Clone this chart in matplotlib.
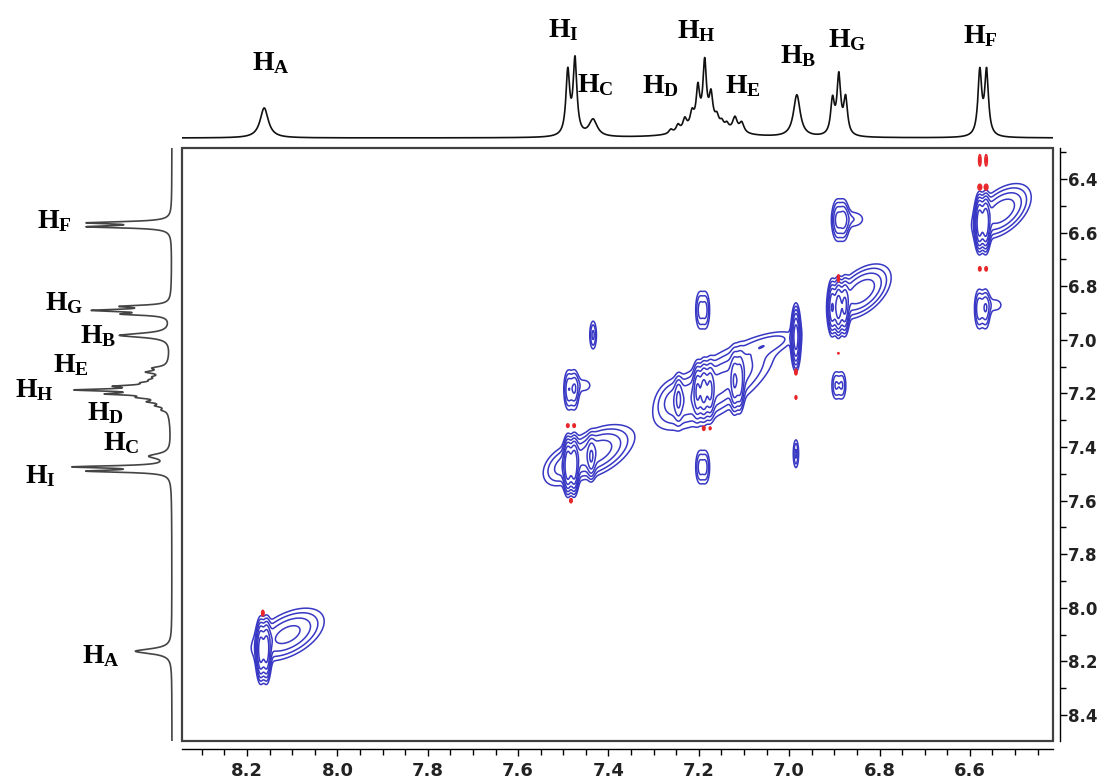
import numpy as np
import matplotlib
matplotlib.use('Agg')
import matplotlib.pyplot as plt
from matplotlib.patches import Rectangle
from matplotlib.ticker import MultipleLocator, FormatStrFormatter

plt.rcParams['mathtext.fontset'] = 'custom'
plt.rcParams['mathtext.bf'] = 'Liberation Serif:bold'
plt.rcParams['mathtext.rm'] = 'Liberation Serif'

# 1D proton spectrum: line position (ppm), height, line width (ppm)
shift = [8.162, 7.490, 7.474, 7.434, 7.262, 7.246, 7.231, 7.215, 7.202, 7.187, 7.173,
         7.160, 7.149, 7.138, 7.120, 7.105, 7.180, 6.983, 6.904, 6.890, 6.875, 6.578, 6.563]
height = [30, 63, 75, 17, 4, 7, 11, 14, 36, 60, 27,
          8, 5, 5, 14, 10, 14, 42, 34, 58, 36, 64, 64]
fwhm = [0.022, 0.010, 0.010, 0.022, 0.010, 0.010, 0.010, 0.010, 0.009, 0.009, 0.009,
        0.009, 0.009, 0.009, 0.012, 0.012, 0.090, 0.018, 0.010, 0.010, 0.010, 0.010, 0.010]

# peak labels: (name, ppm, height) for the top trace, (name, height, ppm) for the side trace
top_labels = [('A', 8.189, 68), ('I', 7.534, 101), ('C', 7.470, 46), ('D', 7.326, 45),
              ('H', 7.249, 100), ('E', 7.142, 45), ('B', 7.021, 75), ('G', 6.915, 91),
              ('F', 6.616, 95)]
side_labels = [('F', 135, 6.583), ('G', 127, 6.889), ('B', 92, 7.012), ('E', 119, 7.120),
               ('H', 157, 7.213), ('D', 85, 7.299), ('C', 69, 7.411), ('I', 147, 7.534),
               ('A', 90, 8.206)]

# 2D COSY peaks: x ppm, y ppm, sigma x, sigma y, tilt, amplitude
diag_x = [8.170, 8.157, 7.490, 7.476, 7.438, 7.245, 7.203, 7.189, 7.175, 7.121, 7.109,
          6.985, 6.905, 6.891, 6.877, 6.579, 6.565]
diag_y = [8.16, 8.16, 7.47, 7.47, 7.44, 7.22, 7.19, 7.19, 7.19, 7.16, 7.16,
          6.99, 6.88, 6.88, 6.88, 6.565, 6.565]
diag_sx = [0.005] * 17
diag_sy = [0.055, 0.055, 0.05, 0.05, 0.04, 0.045, 0.05, 0.05, 0.05, 0.055, 0.055,
           0.055, 0.05, 0.05, 0.05, 0.05, 0.05]
diag_amp = [0.8, 0.8, 0.9, 0.9, 0.4, 0.25, 0.5, 0.6, 0.5, 0.45, 0.4,
            0.9, 0.6, 0.8, 0.6, 0.9, 0.9]

tail_x = [8.11, 7.43, 7.51, 7.16, 7.26, 7.04, 6.84, 6.53]
tail_y = [8.10, 7.42, 7.48, 7.17, 7.22, 7.01, 6.82, 6.52]
tail_sx = [0.045, 0.045, 0.025, 0.07, 0.025, 0.04, 0.035, 0.035]
tail_sy = [0.055, 0.055, 0.045, 0.09, 0.05, 0.03, 0.055, 0.055]
tail_rho = [0.5, 0.5, 0.3, 0.7, 0.2, 0.6, 0.5, 0.5]
tail_amp = [0.3, 0.35, 0.12, 0.3, 0.12, 0.1, 0.35, 0.35]

cross_x = [6.894, 6.879, 6.860, 6.580, 6.565, 6.545, 7.489, 7.475, 7.455, 7.198, 7.185,
           7.434, 6.985, 7.198, 7.185, 6.897, 6.883]
cross_y = [6.553, 6.553, 6.550, 6.885, 6.885, 6.870, 7.187, 7.187, 7.170, 7.475, 7.475,
           6.982, 7.425, 6.889, 6.889, 7.170, 7.170]
cross_sx = [0.007, 0.007, 0.022, 0.006, 0.006, 0.018, 0.006, 0.006, 0.018, 0.006, 0.006,
            0.005, 0.004, 0.006, 0.006, 0.006, 0.006]
cross_sy = [0.045, 0.045, 0.025, 0.045, 0.045, 0.025, 0.045, 0.045, 0.025, 0.04, 0.04,
            0.035, 0.035, 0.045, 0.045, 0.035, 0.035]
cross_amp = [0.25, 0.25, 0.1, 0.22, 0.22, 0.08, 0.22, 0.22, 0.08, 0.18, 0.18,
             0.18, 0.18, 0.18, 0.18, 0.16, 0.16]

red_x = [6.578, 6.564, 6.578, 6.564, 6.578, 6.564, 6.891, 6.891, 6.985, 6.985,
         7.490, 7.476, 7.189, 7.175, 7.483, 8.165]
red_y = [6.33, 6.33, 6.43, 6.43, 6.735, 6.735, 6.77, 7.05, 7.12, 7.215,
         7.32, 7.32, 7.33, 7.33, 7.60, 8.02]
red_sx = [0.002, 0.002, 0.003, 0.003, 0.002, 0.002, 0.0015, 0.001, 0.002, 0.0015,
          0.002, 0.002, 0.002, 0.0015, 0.002, 0.002]
red_sy = [0.016, 0.016, 0.008, 0.008, 0.006, 0.006, 0.01, 0.002, 0.008, 0.005,
          0.005, 0.005, 0.006, 0.004, 0.006, 0.008]

x_lim = (8.344, 6.416)
y_lim = (8.497, 6.284)


def spectrum(ppm):
    s = np.zeros_like(ppm)
    for c, h, w in zip(shift, height, fwhm):
        s += h / (1 + ((ppm - c) / (w / 2)) ** 2)
    return s


def field(X, Y, xs, ys, sxs, sys_, amps, rhos=None):
    Z = np.zeros_like(X)
    if rhos is None:
        rhos = [0.0] * len(xs)
    for x0, y0, sx, sy, a, r in zip(xs, ys, sxs, sys_, amps, rhos):
        dx = (X - x0) / sx
        dy = (Y - y0) / sy
        Z += a * np.exp(-(dx * dx - 2 * r * dx * dy + dy * dy) / (2 * (1 - r * r)))
    return Z


fig = plt.figure(figsize=(11, 7.8), dpi=100)

# main 2D panel
ax = fig.add_axes([182 / 1100, 0.05, 871 / 1100, 593 / 780])
gx = np.linspace(6.40, 8.36, 1300)
gy = np.linspace(6.27, 8.51, 950)
X, Y = np.meshgrid(gx, gy)
Z = field(X, Y, diag_x, diag_y, diag_sx, diag_sy, diag_amp)
Z += field(X, Y, tail_x, tail_y, tail_sx, tail_sy, tail_amp, tail_rho)
Z += field(X, Y, cross_x, cross_y, cross_sx, cross_sy, cross_amp)
ax.contour(X, Y, Z, levels=[0.06, 0.1, 0.16, 0.25, 0.4, 0.65],
           colors='#3838c4', linewidths=1.1)
R = field(X, Y, red_x, red_y, red_sx, red_sy, [1.0] * len(red_x))
ax.contour(X, Y, R, levels=[0.4, 0.8], colors='#e8262a', linewidths=1.1)

ax.set_xlim(*x_lim)
ax.set_ylim(*y_lim)
ax.spines['top'].set_visible(False)
ax.spines['left'].set_visible(False)
ax.spines['bottom'].set_position(('outward', 6))
ax.spines['right'].set_position(('outward', 5))
ax.spines['bottom'].set_linewidth(1.0)
ax.spines['right'].set_linewidth(1.0)
ax.add_patch(Rectangle((0, 0), 1, 1, transform=ax.transAxes, fill=False,
                       edgecolor='#404040', linewidth=1.6, clip_on=False))
ax.yaxis.tick_right()
ax.xaxis.set_major_locator(MultipleLocator(0.2))
ax.xaxis.set_minor_locator(MultipleLocator(0.05))
ax.yaxis.set_major_locator(MultipleLocator(0.2))
ax.yaxis.set_minor_locator(MultipleLocator(0.1))
ax.xaxis.set_major_formatter(FormatStrFormatter('%.1f'))
ax.yaxis.set_major_formatter(FormatStrFormatter('%.1f'))
ax.tick_params(axis='x', which='major', direction='out', length=5, width=1, pad=4)
ax.tick_params(axis='x', which='minor', direction='out', length=4, width=1)
ax.tick_params(axis='y', which='major', direction='out', length=5, width=1, pad=1)
ax.tick_params(axis='y', which='minor', direction='out', length=4, width=1)
for lab in ax.get_xticklabels():
    lab.set_family(['Liberation Sans Narrow', 'DejaVu Sans'])
    lab.set_fontweight('bold')
    lab.set_fontsize(13)
    lab.set_color('#222222')
for lab in ax.get_yticklabels():
    lab.set_family('DejaVu Sans')
    lab.set_fontweight('bold')
    lab.set_fontsize(12)
    lab.set_color('#222222')

# top projection
ppm = np.linspace(x_lim[1], x_lim[0], 5000)
spec = spectrum(ppm)
axt = fig.add_axes([182 / 1100, 1 - 140 / 780, 871 / 1100, 110 / 780])
axt.plot(ppm, spec, color='#111111', lw=1.2)
axt.set_xlim(*x_lim)
axt.set_ylim(-2, 108)
axt.axis('off')
for name, xp, yp in top_labels:
    axt.text(xp, yp, r'$\mathbf{H_%s}$' % name, fontsize=20, ha='left', va='baseline')

# side projection
ppm_y = np.linspace(y_lim[1], y_lim[0], 5000)
axl = fig.add_axes([40 / 1100, 0.05, 136 / 1100, 593 / 780])
axl.plot(spectrum(ppm_y) * 1.22, ppm_y, color='#444444', lw=1.2)
axl.set_xlim(132, -4)
axl.set_ylim(*y_lim)
axl.axis('off')
for name, xp, yp in side_labels:
    axl.text(xp, yp, r'$\mathbf{H_%s}$' % name, fontsize=20, ha='left', va='baseline')

fig.savefig('out.png', dpi=100)
